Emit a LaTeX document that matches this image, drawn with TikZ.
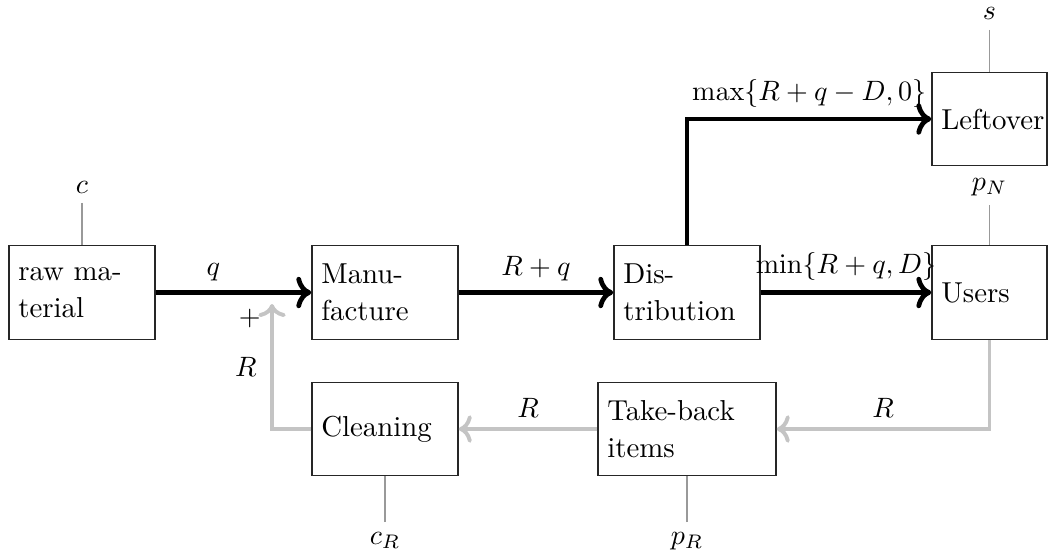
\documentclass[tikz,border=0pt]{standalone}
\usetikzlibrary{arrows.meta}
\begin{document}
\begin{tikzpicture}[x=0.35714pt,y=-0.35714pt,
  every node/.style={font=\fontsize{10.3pt}{13.2pt}\selectfont},
  box/.style={draw=black!85, line width=0.5pt, minimum height=33.4pt, inner sep=3.33pt, align=left},
  wbox/.style={box, text width=45.5pt},
  nbox/.style={box, text width=34.4pt},
  flow/.style={line width=1.7pt, -{To}},
  back/.style={line width=1.4pt, draw=black!23, -{To}},
  cost/.style={draw=black!40, line width=0.5pt}]
\useasboundingbox (0,0) rectangle (1050,554);
% boxes
\node[wbox] (raw) at (82,292.5) {raw ma-\\terial};
\node[wbox] (manu) at (385,292.5) {Manu-\\facture};
\node[wbox] (dist) at (687,292.5) {Dis-\\tribution};
\node[nbox] (users) at (989.5,292.5) {Users};
\node[nbox] (left) at (989.5,119) {Leftover};
\node[wbox] (clean) at (385,429) {Cleaning};
\node[box, text width=56.9pt] (take) at (687,429) {Take-back\\items};
% cost labels
\node[anchor=base] (c) at (82,193) {$c$};
\node[anchor=base] (s) at (989.5,20) {$s$};
\node[anchor=base] (pN) at (989.5,190) {$p_N$};
\node[anchor=base] (cR) at (385,544) {$c_R$};
\node[anchor=base] (pR) at (687,544) {$p_R$};
\draw[cost] (c) -- (raw);
\draw[cost] (s) -- (left);
\draw[cost] (pN) -- (users);
\draw[cost] (cR) -- (clean);
\draw[cost] (pR) -- (take);
% flows
\coordinate (tip) at (272,304);
\draw[flow] (raw) -- node[above, pos=0.37] {$q$} (manu);
\draw[flow] (manu) -- node[above] {$R+q$} (dist);
\draw[flow] (dist) -- node[above] {$\min\{R+q,D\}$} (users);
\draw[flow] (dist.north) |- node[above, pos=0.75] {$\max\{R+q-D,0\}$} (left.west);
\draw[back] (users.south) |- node[above, pos=0.75, text=black] {$R$} (take.east);
\draw[back] (take) -- node[above, text=black] {$R$} (clean);
\draw[back] (clean.west) -| node[left, pos=0.75, text=black, xshift=-1.5pt] {$R$} node[left, pos=0.944, text=black] {$+$} (tip);
\end{tikzpicture}
\end{document}
